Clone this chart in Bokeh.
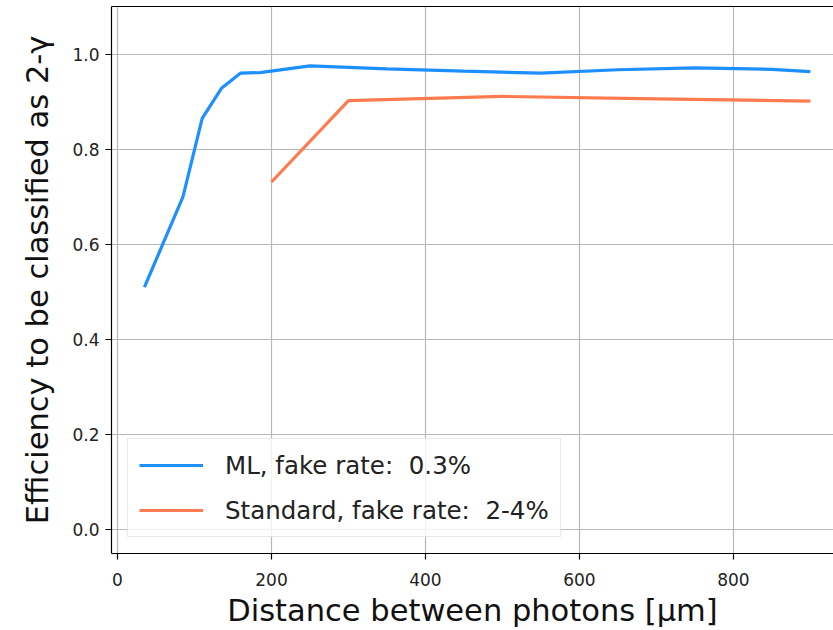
from bokeh.plotting import figure
from bokeh.models import Range1d, Legend, LegendItem, LinearAxis, FixedTicker, PrintfTickFormatter
from bokeh.embed import file_html
from bokeh.resources import INLINE

# ML classifier efficiency
ml_x = [35, 85, 110, 135, 160, 185, 250, 350, 450, 550, 650, 750, 850, 900]
ml_y = [0.51, 0.70, 0.865, 0.928, 0.960, 0.961, 0.975, 0.969, 0.964, 0.960, 0.967, 0.971, 0.968, 0.963]

# Standard algorithm efficiency
std_x = [200, 300, 500, 700, 900]
std_y = [0.731, 0.902, 0.911, 0.906, 0.901]

x_ticks = [0, 200, 400, 600, 800]
y_ticks = [0.0, 0.2, 0.4, 0.6, 0.8, 1.0]

ml_label = "ML, fake rate:  0.3%"
std_label = "Standard, fake rate:  2-4%"
x_label = "Distance between photons [μm]"
y_label = "Efficiency to be classified as 2-γ"

FONT = "DejaVu Sans"

p = figure(width=833, height=630, output_backend="svg", toolbar_location=None,
           x_range=Range1d(-7.8, 930), y_range=Range1d(-0.05, 1.1),
           min_border_left=111, min_border_right=0, min_border_top=6, min_border_bottom=77)
p.background_fill_color = "white"
p.border_fill_color = "white"
p.outline_line_color = None

for ax in (p.xaxis[0], p.yaxis[0]):
    ax.axis_line_color = "black"
    ax.axis_line_width = 1.2
    ax.major_tick_line_color = "black"
    ax.major_tick_line_width = 1.2
    ax.major_tick_out = 6
    ax.major_tick_in = 0
    ax.minor_tick_line_color = None
    ax.major_label_text_font = FONT
    ax.major_label_text_font_size = "17px"
    ax.major_label_text_color = "#222222"
    ax.axis_label_text_font = FONT
    ax.axis_label_text_font_size = "30.5px"
    ax.axis_label_text_font_style = "normal"
    ax.axis_label_text_color = "#111111"

p.xaxis[0].ticker = FixedTicker(ticks=x_ticks)
p.yaxis[0].ticker = FixedTicker(ticks=y_ticks)
p.yaxis[0].formatter = PrintfTickFormatter(format="%.1f")
p.xaxis[0].axis_label = x_label
p.yaxis[0].axis_label = y_label
p.xaxis[0].major_label_standoff = 13
p.xaxis[0].axis_label_standoff = 4
p.yaxis[0].major_label_standoff = 6
p.yaxis[0].axis_label_standoff = 14

top = LinearAxis(ticker=FixedTicker(ticks=[]), major_tick_line_color=None, minor_tick_line_color=None,
                 major_label_text_font_size="0px", axis_line_color="black", axis_line_width=1.2,
                 major_tick_out=0, major_label_standoff=0)
p.add_layout(top, "above")

p.xgrid.ticker = FixedTicker(ticks=x_ticks)
p.ygrid.ticker = FixedTicker(ticks=y_ticks)
p.grid.grid_line_color = "#b8b8b8"
p.grid.grid_line_width = 1.2

r1 = p.line(ml_x, ml_y, line_color="#1e8fff", line_width=3.2)
r2 = p.line(std_x, std_y, line_color="#ff7b4f", line_width=3.2)

legend = Legend(items=[LegendItem(label=ml_label, renderers=[r1]),
                       LegendItem(label=std_label, renderers=[r2])],
                location=(16, 16))
legend.label_text_font = FONT
legend.label_text_font_size = "24.5px"
legend.label_text_color = "#222222"
legend.glyph_width = 64
legend.glyph_height = 30
legend.label_height = 30
legend.label_standoff = 22
legend.spacing = 15
legend.padding = 11
legend.margin = 0
legend.border_line_color = "#d0d0d0"
legend.border_line_width = 1.2
legend.background_fill_alpha = 0.8
p.add_layout(legend, "center")

open("out.html", "w").write(file_html(p, INLINE))
